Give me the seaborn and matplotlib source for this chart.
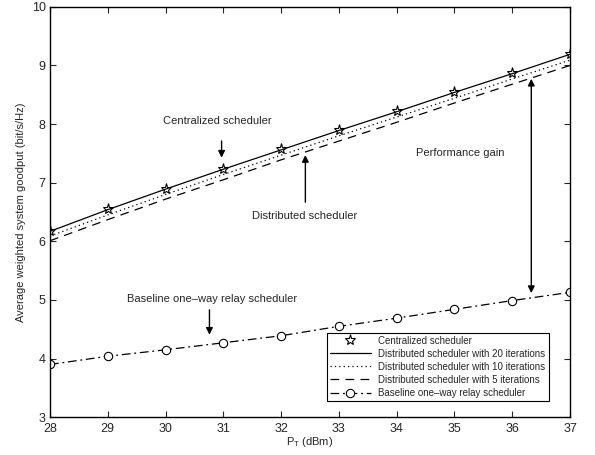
import numpy as np
import pandas as pd
import seaborn as sns
import matplotlib.pyplot as plt

# transmit power (dBm)
p_t = [28, 29, 30, 31, 32, 33, 34, 35, 36, 37]

# average weighted system goodput (bit/s/Hz)
centralized = [6.18, 6.55, 6.90, 7.24, 7.57, 7.90, 8.22, 8.55, 8.87, 9.20]
dist_20 = [6.17, 6.54, 6.89, 7.23, 7.56, 7.89, 8.21, 8.54, 8.86, 9.19]
dist_10 = [6.09, 6.45, 6.80, 7.14, 7.47, 7.80, 8.12, 8.44, 8.77, 9.09]
dist_5 = [6.01, 6.37, 6.72, 7.05, 7.39, 7.71, 8.03, 8.36, 8.68, 9.00]
baseline = [3.90, 4.04, 4.15, 4.27, 4.39, 4.55, 4.69, 4.84, 4.99, 5.13]

sns.set_style('ticks', {'xtick.direction': 'in', 'ytick.direction': 'in'})
plt.rcParams['font.family'] = ['Liberation Sans', 'DejaVu Sans']

df = pd.DataFrame({'P': p_t, 'cen': centralized, 'd20': dist_20,
                   'd10': dist_10, 'd5': dist_5, 'base': baseline})

fig = plt.figure(figsize=(5.95, 4.55), dpi=100)
ax = fig.add_axes([0.084, 0.083, 0.874, 0.902])

sns.lineplot(data=df, x='P', y='cen', ax=ax, color='black', linestyle='none',
             marker='*', markersize=8, markerfacecolor='white',
             markeredgecolor='black', markeredgewidth=0.8,
             label='Centralized scheduler')
sns.lineplot(data=df, x='P', y='d20', ax=ax, color='black', linewidth=0.9,
             label='Distributed scheduler with 20 iterations')
sns.lineplot(data=df, x='P', y='d10', ax=ax, color='black', linewidth=0.9,
             linestyle=(0, (1, 2.5)), label='Distributed scheduler with 10 iterations')
sns.lineplot(data=df, x='P', y='d5', ax=ax, color='black', linewidth=0.9,
             linestyle=(0, (7, 5)), label='Distributed scheduler with 5 iterations')
sns.lineplot(data=df, x='P', y='base', ax=ax, color='black', linewidth=0.9,
             linestyle=(0, (7, 3, 1.5, 3)), marker='o', markersize=6,
             markerfacecolor='white', markeredgecolor='black', markeredgewidth=0.8,
             label='Baseline one\u2013way relay scheduler')

ax.set_xlim(28, 37)
ax.set_ylim(3, 10)
ax.set_xticks(range(28, 38))
ax.set_yticks(range(3, 11))
ax.tick_params(axis='both', which='both', top=True, right=True, labelsize=9,
               length=4, width=0.8)
ax.tick_params(axis='x', pad=4)
ax.tick_params(axis='y', pad=3)
for s in ax.spines.values():
    s.set_linewidth(1.0)
    s.set_color('black')

ax.set_xlabel('P$_\\mathregular{T}$ (dBm)', fontsize=8, labelpad=0)
ax.set_ylabel('Average weighted system goodput (bit/s/Hz)', fontsize=8, labelpad=4)

arrow = dict(arrowstyle='-|>', color='black', lw=1.0, mutation_scale=10)
ax.annotate('', xy=(30.97, 7.38), xytext=(30.97, 7.76), arrowprops=arrow)
ax.text(30.9, 8.05, 'Centralized scheduler', fontsize=8, ha='center', va='center')

ax.annotate('', xy=(32.42, 7.52), xytext=(32.42, 6.62), arrowprops=arrow)
ax.text(32.4, 6.43, 'Distributed scheduler', fontsize=8, ha='center', va='center')

ax.annotate('', xy=(30.76, 4.36), xytext=(30.76, 4.88), arrowprops=arrow)
ax.text(30.8, 5.02, 'Baseline one\u2013way relay scheduler', fontsize=8,
        ha='center', va='center')

ax.annotate('', xy=(36.33, 5.07), xytext=(36.33, 8.82),
            arrowprops=dict(arrowstyle='<|-|>', color='black', lw=1.0, mutation_scale=10))
ax.text(35.1, 7.5, 'Performance gain', fontsize=8, ha='center', va='center')

leg = ax.legend(loc='lower right', bbox_to_anchor=(0.968, 0.028), fontsize=7,
                frameon=True, fancybox=False, edgecolor='black', framealpha=1,
                handlelength=4.2, borderpad=0.3, labelspacing=0.32, handletextpad=0.8)
leg.get_frame().set_linewidth(0.8)

fig.savefig('out.png', dpi=100)
